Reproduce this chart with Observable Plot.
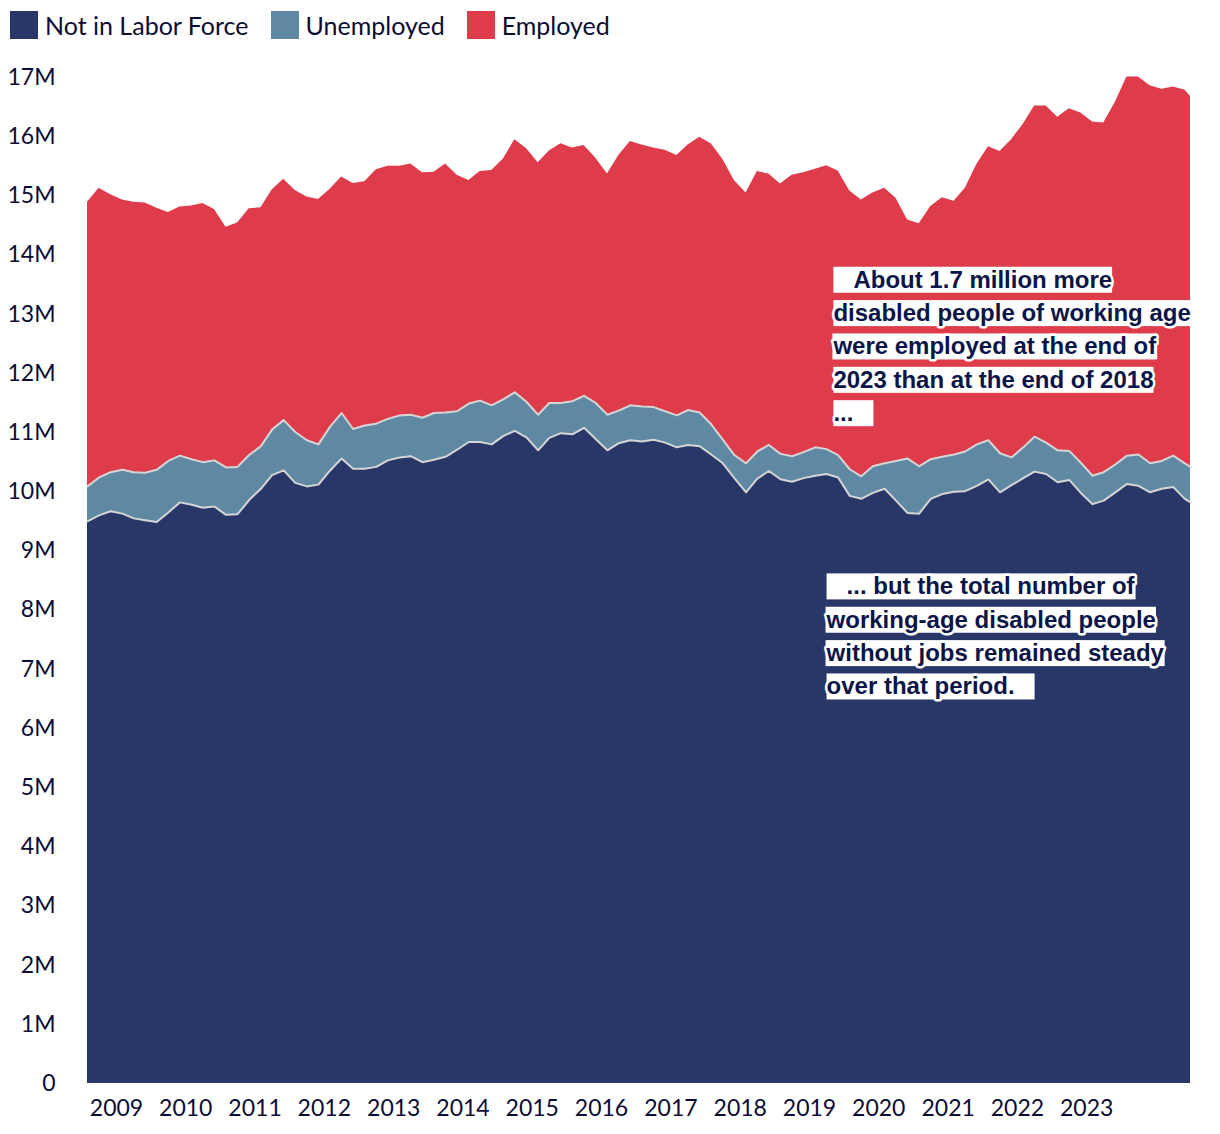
<!DOCTYPE html>
<html><head><meta charset="utf-8">
<script src="https://cdn.jsdelivr.net/npm/d3@7"></script>
<script src="https://cdn.jsdelivr.net/npm/@observablehq/plot@0.6"></script>
<style>
body{margin:0;background:#fff;font-family:Lato,sans-serif;}
#legend{display:flex;align-items:center;height:50px;padding-left:10px;box-sizing:border-box;padding-top:0px}
.item{display:flex;align-items:center;margin-right:22px;font-size:25px;color:#0b0b33}
.sw{width:28px;height:28px;margin-right:7px}
#chart svg{display:block}
</style></head><body>
<div id="legend"></div>
<div id="chart"></div>
<script>
const months = ["2008-08","2008-10","2008-12",
"2009-02","2009-04","2009-06","2009-08","2009-10","2009-12",
"2010-02","2010-04","2010-06","2010-08","2010-10","2010-12",
"2011-02","2011-04","2011-06","2011-08","2011-10","2011-12",
"2012-02","2012-04","2012-06","2012-08","2012-10","2012-12",
"2013-02","2013-04","2013-06","2013-08","2013-10","2013-12",
"2014-02","2014-04","2014-06","2014-08","2014-10","2014-12",
"2015-02","2015-04","2015-06","2015-08","2015-10","2015-12",
"2016-02","2016-04","2016-06","2016-08","2016-10","2016-12",
"2017-02","2017-04","2017-06","2017-08","2017-10","2017-12",
"2018-02","2018-04","2018-06","2018-08","2018-10","2018-12",
"2019-02","2019-04","2019-06","2019-08","2019-10","2019-12",
"2020-02","2020-04","2020-06","2020-08","2020-10","2020-12",
"2021-02","2021-04","2021-06","2021-08","2021-10","2021-12",
"2022-02","2022-04","2022-06","2022-08","2022-10","2022-12",
"2023-02","2023-04","2023-06","2023-08","2023-10","2023-12",
"2024-02","2024-04","2024-06","2024-07"];

// millions
const notInLaborForce = [9.50,9.60,9.67,9.63,9.55,9.52,9.49,9.65,9.82,9.78,
9.73,9.75,9.61,9.62,9.86,10.05,10.28,10.36,10.15,10.09,
10.12,10.36,10.56,10.39,10.39,10.42,10.53,10.58,10.60,10.50,
10.54,10.59,10.71,10.84,10.84,10.80,10.94,11.03,10.92,10.70,
10.91,10.99,10.97,11.08,10.89,10.70,10.82,10.87,10.85,10.88,
10.83,10.75,10.79,10.77,10.63,10.48,10.23,9.99,10.22,10.35,
10.21,10.17,10.23,10.27,10.30,10.24,9.93,9.88,9.98,10.05,
9.85,9.64,9.63,9.88,9.96,10.00,10.01,10.10,10.21,9.99,
10.11,10.23,10.34,10.30,10.16,10.20,9.98,9.79,9.85,9.99,
10.13,10.10,9.99,10.05,10.08,9.88,9.82];

const unemployed = [0.59,0.64,0.66,0.74,0.78,0.80,0.88,0.87,0.79,0.77,
0.77,0.78,0.80,0.80,0.76,0.72,0.77,0.85,0.86,0.78,
0.68,0.74,0.77,0.67,0.73,0.73,0.70,0.71,0.70,0.75,
0.79,0.75,0.65,0.65,0.70,0.66,0.62,0.65,0.60,0.60,
0.59,0.51,0.56,0.54,0.61,0.60,0.55,0.59,0.59,0.55,
0.53,0.54,0.59,0.57,0.51,0.40,0.39,0.49,0.46,0.44,
0.43,0.43,0.44,0.48,0.42,0.38,0.45,0.38,0.45,0.43,
0.67,0.92,0.80,0.67,0.63,0.63,0.67,0.70,0.66,0.66,
0.47,0.52,0.59,0.53,0.54,0.49,0.51,0.48,0.48,0.47,
0.48,0.53,0.49,0.47,0.53,0.60,0.60];

const employed = [4.80,4.89,4.69,4.56,4.56,4.56,4.42,4.20,4.20,4.28,
4.37,4.24,4.06,4.12,4.16,4.03,4.05,4.07,4.08,4.11,
4.14,4.01,3.99,4.15,4.12,4.29,4.27,4.21,4.24,4.14,
4.07,4.20,3.99,3.77,3.87,3.97,4.06,4.27,4.28,4.26,
4.26,4.38,4.28,4.23,4.14,4.07,4.31,4.46,4.42,4.38,
4.41,4.39,4.48,4.65,4.74,4.74,4.64,4.57,4.73,4.58,
4.56,4.75,4.72,4.70,4.79,4.80,4.70,4.67,4.62,4.65,
4.44,4.03,4.10,4.27,4.38,4.28,4.45,4.73,4.96,5.10,
5.37,5.46,5.59,5.69,5.63,5.78,5.91,5.98,5.90,6.12,
6.40,6.38,6.38,6.28,6.23,6.31,6.26];

const seriesNames = ["Not in Labor Force","Unemployed","Employed"];
const seriesColors = ["#283668","#5f89a3","#de3c4b"];
const yearTicks = [2009,2010,2011,2012,2013,2014,2015,2016,2017,2018,2019,2020,2021,2022,2023];
const yTicks = [0,1,2,3,4,5,6,7,8,9,10,11,12,13,14,15,16,17];

const annotations = [
  {date:"2019-05-07", value:12.50, text:"\u00a0\u00a0\u00a0About 1.7 million more\ndisabled people of working age\nwere employed at the end of\n2023 than at the end of 2018\n...\u00a0\u00a0\u00a0"},
  {date:"2019-04-01", value:7.60, text:"\u00a0\u00a0\u00a0... but the total number of\nworking-age disabled people\nwithout jobs remained steady\nover that period.\u00a0\u00a0\u00a0"}
];

const parse = d3.utcParse("%Y-%m");
const seriesValues = [notInLaborForce, unemployed, employed];
const rows = months.flatMap((m, i) => seriesNames.map((s, j) => ({date: parse(m), series: s, value: seriesValues[j][i]})));

// legend
const legend = document.getElementById("legend");
seriesNames.forEach((s, i) => {
  const it = document.createElement("div"); it.className = "item";
  const sw = document.createElement("div"); sw.className = "sw"; sw.style.background = seriesColors[i];
  const lb = document.createElement("span"); lb.textContent = s;
  it.append(sw, lb); legend.append(it);
});

const chart = Plot.plot({
  width: 1220, height: 1084,
  marginLeft: 87, marginRight: 30, marginTop: 27, marginBottom: 51,
  style: {fontFamily: "Lato, sans-serif", fontSize: "23px", color: "#0b0b33", background: "#fff", overflow: "visible"},
  x: {type: "utc", domain: [parse("2008-08"), parse("2024-07")], ticks: yearTicks.map(y => new Date(Date.UTC(y, 0, 1))), tickFormat: "%Y", tickSize: 0, tickPadding: 16, label: null},
  y: {domain: [0, 17], ticks: yTicks, tickFormat: d => d === 0 ? "0" : d + "M", tickSize: 0, tickPadding: 32, label: null},
  color: {domain: seriesNames, range: seriesColors},
  marks: [
    Plot.areaY(rows, {x: "date", y: "value", z: "series", fill: "series", order: seriesNames}),
    Plot.lineY(rows.filter(d => d.series !== "Employed"), Plot.stackY2({x: "date", y: "value", z: "series", order: seriesNames, stroke: "#d4d4d4", strokeWidth: 2})),
    Plot.text(annotations, {x: d => new Date(d.date), y: "value", text: "text", textAnchor: "start", lineAnchor: "middle", lineHeight: 1.39, fontSize: 24, fontWeight: "bold", fontFamily: "'Liberation Sans', Arial, sans-serif", fill: "#0b1547", stroke: "white", strokeWidth: 5, paintOrder: "stroke", strokeLinejoin: "round"})
  ]
});
document.getElementById("chart").append(chart);

// white boxes behind each annotation line
const tg = chart.querySelector('g[aria-label="text"]');
if (tg) {
  tg.querySelectorAll("text").forEach(t => {
    t.querySelectorAll("tspan").forEach(ts => {
      const b = ts.getBBox();
      const r = document.createElementNS("http://www.w3.org/2000/svg", "rect");
      r.setAttribute("x", b.x); r.setAttribute("y", b.y + 1);
      r.setAttribute("width", b.width); r.setAttribute("height", b.height - 1);
      r.setAttribute("fill", "white"); r.setAttribute("stroke", "none");
      if (t.getAttribute("transform")) r.setAttribute("transform", t.getAttribute("transform"));
      tg.insertBefore(r, t);
    });
  });
}
</script>
</body></html>
